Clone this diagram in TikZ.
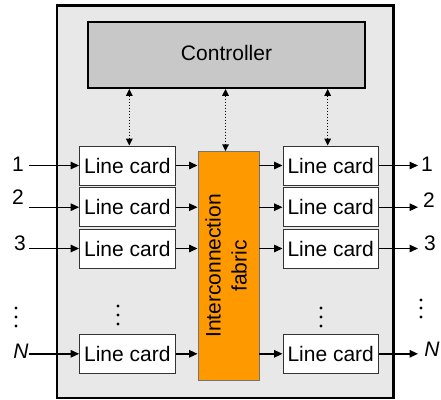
\documentclass[tikz,border=0pt]{standalone}
\usepackage{fontspec}
\setmainfont{Liberation Sans}
\usetikzlibrary{arrows.meta}
\definecolor{chassisgray}{HTML}{E8E8E8}
\definecolor{ctrlgray}{HTML}{C8C8C8}
\definecolor{fabricorange}{HTML}{FF9900}
\begin{document}
\begin{tikzpicture}[x=1pt,y=-1pt,font=\fontsize{21}{26}\selectfont,
card/.style={draw=black!80, fill=white, line width=0.9pt, minimum width=95.5pt, minimum height=39pt, inner sep=0pt},
flow/.style={line width=1.4pt, -{Triangle[length=8.5pt,width=7.5pt]}},
ctrlink/.style={line width=1.5pt, dash pattern=on 1.5pt off 1.5pt, {Triangle[length=7pt,width=6.5pt]}-{Triangle[length=7pt,width=6.5pt]}},
port/.style={inner sep=0pt}]
\useasboundingbox (0,0) rectangle (441,399);
% chassis and controller
\draw[line width=2.8pt, fill=chassisgray] (57,5.8) rectangle (393.3,398);
\node[draw, line width=1.8pt, fill=ctrlgray, minimum width=277pt, minimum height=66pt, text depth=5pt] (ctrl) at (226.5,55) {Controller};
\node[draw=black!55, line width=0.9pt, fill=fabricorange, minimum width=61pt, minimum height=228.5pt, inner sep=0pt] (fabric) at (228.5,266)
{\rotatebox{90}{\begin{tabular}{c}Interconnection\\fabric\end{tabular}}};
% line cards
\node[card] (lc1) at (127.3,165.5) {Line card};
\node[card] (lc2) at (127.3,207.2) {Line card};
\node[card] (lc3) at (127.3,248.5) {Line card};
\node[card] (lcN) at (127.3,353.8) {Line card};
\node[card] (rc1) at (330.7,165.5) {Line card};
\node[card] (rc2) at (330.7,207.2) {Line card};
\node[card] (rc3) at (330.7,248.5) {Line card};
\node[card] (rcN) at (330.7,353.8) {Line card};
% ports
\node[port] (in1) at (18,164) {1};
\node[port] (in2) at (18,197) {2};
\node[port] (in3) at (20,243) {3};
\node[port] (inN) at (21,351) {\textit{N}};
\node[port] (out1) at (427,164) {1};
\node[port] (out2) at (429,200) {2};
\node[port] (out3) at (430,243) {3};
\node[port] (outN) at (432,349) {\textit{N}};
\coordinate (a1) at (29,165.5);
\coordinate (a2) at (29,207.2);
\coordinate (a3) at (29,248.5);
\coordinate (aN) at (29,353.8);
\coordinate (b1) at (418,165.5);
\coordinate (b2) at (418,207.2);
\coordinate (b3) at (418,248.5);
\coordinate (bN) at (418,353.8);
% data path
\draw[flow] (a1) -- (lc1.west);
\draw[flow] (a2) -- (lc2.west);
\draw[flow] (a3) -- (lc3.west);
\draw[flow] (aN) -- (lcN.west);
\draw[flow] (lc1.east) -- (lc1.east -| fabric.west);
\draw[flow] (lc2.east) -- (lc2.east -| fabric.west);
\draw[flow] (lc3.east) -- (lc3.east -| fabric.west);
\draw[flow] (lcN.east) -- (lcN.east -| fabric.west);
\draw[flow] (fabric.east |- rc1.west) -- (rc1.west);
\draw[flow] (fabric.east |- rc2.west) -- (rc2.west);
\draw[flow] (fabric.east |- rc3.west) -- (rc3.west);
\draw[flow] (fabric.east |- rcN.west) -- (rcN.west);
\draw[flow] (rc1.east) -- (b1);
\draw[flow] (rc2.east) -- (b2);
\draw[flow] (rc3.east) -- (b3);
\draw[flow] (rcN.east) -- (bN);
% control links
\draw[ctrlink] ([xshift=2pt]lc1.north |- ctrl.south) -- ([xshift=2pt]lc1.north);
\draw[ctrlink] ([xshift=-3pt]fabric.north |- ctrl.south) -- ([xshift=-3pt]fabric.north);
\draw[ctrlink] ([xshift=-3pt]rc1.north |- ctrl.south) -- ([xshift=-3pt]rc1.north);
% vertical dots
\fill (16,308) circle[radius=1.6] (16,317) circle[radius=1.6] (16,326) circle[radius=1.6];
\fill (118,306) circle[radius=1.6] (118,315) circle[radius=1.6] (118,324) circle[radius=1.6];
\fill (321,308) circle[radius=1.6] (321,317) circle[radius=1.6] (321,326) circle[radius=1.6];
\fill (421,300) circle[radius=1.6] (421,308) circle[radius=1.6] (421,317) circle[radius=1.6];
\end{tikzpicture}
\end{document}
